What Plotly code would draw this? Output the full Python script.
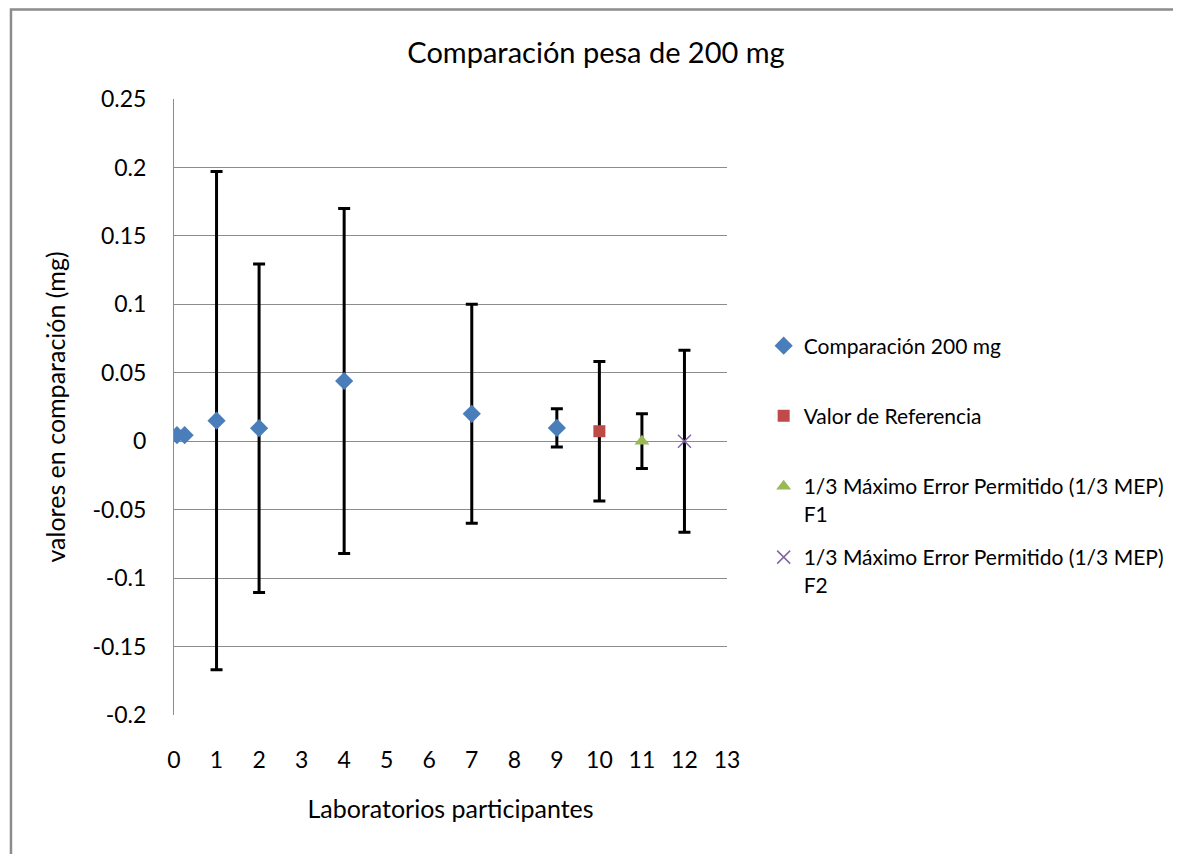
import plotly.graph_objects as go

# datos
lab_x = [0.07, 0.25, 1, 2, 4, 7, 9]
lab_y = [0.0044, 0.0044, 0.015, 0.0095, 0.044, 0.02, 0.0097]
lab_err = [None, None, 0.182, 0.12, 0.126, 0.08, 0.014]

ref_x = [10]
ref_y = [0.0073]
ref_err = [0.051]

f1_x = [11]
f1_y = [0.0]
f1_err = [0.02]

f2_x = [12]
f2_y = [0.0]
f2_err = [0.0665]

x_ticks = list(range(0, 14))
y_ticks = [0.25, 0.2, 0.15, 0.1, 0.05, 0, -0.05, -0.1, -0.15, -0.2]

fuente = "Lato, 'Open Sans', sans-serif"

# area de trazado en pixeles de pantalla (la pagina tiene 8 px de margen)
PX0, PX1, PY0, PY1 = 174, 732, 99, 715


def px(x):
    return (x - PX0) / (PX1 - PX0)


def py(y):
    return (PY1 - y) / (PY1 - PY0)


def barras(err):
    return dict(type="data", array=err, visible=True, color="black",
                thickness=3, width=6)


def leyenda(y, anchor):
    return dict(x=px(769), xanchor="left", y=py(y), yanchor=anchor,
                valign="top", bgcolor="rgba(0,0,0,0)",
                font=dict(size=21, family=fuente, color="black"),
                itemwidth=30)


fig = go.Figure()
fig.add_trace(go.Scatter(
    x=lab_x, y=lab_y, mode="markers", name="Comparación 200 mg",
    marker=dict(symbol="diamond", size=14, color="#4a7ebb"),
    error_y=barras(lab_err), legend="legend", showlegend=True))
fig.add_trace(go.Scatter(
    x=ref_x, y=ref_y, mode="markers", name="Valor de Referencia",
    marker=dict(symbol="square", size=12, color="#be4b48"),
    error_y=barras(ref_err), legend="legend2", showlegend=True))
fig.add_trace(go.Scatter(
    x=f1_x, y=f1_y, mode="markers",
    name="1/3 Máximo Error Permitido (1/3 MEP)<br>F1",
    marker=dict(symbol="triangle-up", size=13, color="#98b954"),
    error_y=barras(f1_err), legend="legend3", showlegend=True))
fig.add_trace(go.Scatter(
    x=f2_x, y=f2_y, mode="markers",
    name="1/3 Máximo Error Permitido (1/3 MEP)<br>F2",
    marker=dict(symbol="x-thin-open", size=13, color="#8064a2",
                line=dict(width=1.5, color="#8064a2")),
    error_y=barras(f2_err), legend="legend4", showlegend=True))

fig.update_layout(
    width=1173, height=846,
    margin=dict(l=PX0 - 8, r=1173 - (PX1 - 8), t=PY0 - 8, b=846 - (PY1 - 8)),
    paper_bgcolor="white", plot_bgcolor="white",
    showlegend=True,
    font=dict(family=fuente, color="#1a1a1a"),
    title=dict(text="Comparación pesa de 200 mg", x=588 / 1173,
               xref="container", xanchor="center", y=1 - 45 / 846,
               yref="container", yanchor="middle",
               font=dict(size=29, family=fuente, color="black")),
    legend=leyenda(346, "middle"),
    legend2=leyenda(416, "middle"),
    legend3=leyenda(500, "middle"),
    legend4=leyenda(571, "middle"),
    xaxis=dict(range=[0, 13], tickvals=x_ticks, showgrid=False,
               zeroline=False, showline=False, ticks="",
               ticklabelstandoff=29,
               tickfont=dict(size=23, family=fuente, color="black"),
               title=dict(text="Laboratorios participantes", standoff=28,
                          font=dict(size=25, family=fuente, color="black"))),
    yaxis=dict(range=[-0.2, 0.25], tickvals=y_ticks,
               ticktext=[str(v) for v in y_ticks],
               showgrid=True, gridcolor="#8c8c8c", gridwidth=1,
               zeroline=False, showline=True, linecolor="#8c8c8c",
               linewidth=1, ticks="outside", ticklen=22,
               tickcolor="rgba(0,0,0,0)",
               tickfont=dict(size=23, family=fuente, color="black"),
               title=dict(text="valores en comparación (mg)", standoff=19,
                          font=dict(size=25, family=fuente, color="black"))),
    shapes=[dict(type="rect", xref="paper", yref="paper",
                 x0=px(9.5), x1=px(1200), y0=py(880), y1=py(9.5),
                 line=dict(color="#8c8c8c", width=2.5), layer="below")],
)

fig.write_html("out.html")
